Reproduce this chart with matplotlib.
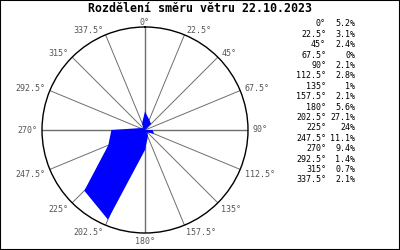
import numpy as np
import matplotlib
matplotlib.use("Agg")
import matplotlib.pyplot as plt
from matplotlib.patches import Rectangle
from matplotlib.transforms import offset_copy

# Wind direction distribution (percent of time per sector)
directions = [0, 22.5, 45, 67.5, 90, 112.5, 135, 157.5,
              180, 202.5, 225, 247.5, 270, 292.5, 315, 337.5]
dir_labels = ["0°", "22.5°", "45°", "67.5°", "90°", "112.5°", "135°", "157.5°",
              "180°", "202.5°", "225°", "247.5°", "270°", "292.5°", "315°", "337.5°"]
percent = [5.2, 3.1, 2.4, 0, 2.1, 2.8, 1, 2.1,
           5.6, 27.1, 24, 11.1, 9.4, 1.4, 0.7, 2.1]
pct_labels = ["5.2%", "3.1%", "2.4%", "0%", "2.1%", "2.8%", "1%", "2.1%",
              "5.6%", "27.1%", "24%", "11.1%", "9.4%", "1.4%", "0.7%", "2.1%"]
title = "Rozdělení směru větru 22.10.2023"

W, H = 400, 250
cx, cy, R = 145, 130, 103
rmax = 28.8
mono = "DejaVu Sans Mono"

fig = plt.figure(figsize=(W / 100, H / 100), dpi=100)
fig.patches.append(Rectangle((0, 0), 1, 1, transform=fig.transFigure,
                             fill=False, edgecolor="black", linewidth=1.5))

ax = fig.add_axes([(cx - R) / W, (H - cy - R) / H, 2 * R / W, 2 * R / H],
                  projection="polar")
ax.set_theta_zero_location("N")
ax.set_theta_direction(-1)
ax.set_ylim(0, rmax)
ax.set_yticks([])
theta = np.deg2rad(directions)
ax.set_xticks(theta)
ax.set_xticklabels([])
ax.grid(True, axis="x", color="#6e6e6e", linewidth=0.7)
ax.grid(False, axis="y")
ax.spines["polar"].set_color("black")
ax.spines["polar"].set_linewidth(1.0)

# cardinal directions slightly heavier
for d in [0, 90, 180, 270]:
    ax.plot([np.deg2rad(d)] * 2, [0, rmax], color="#6e6e6e", linewidth=1.0, zorder=1)

# wind rose polygon
t_closed = np.append(theta, theta[0])
p_closed = np.append(percent, percent[0])
ax.fill(t_closed, p_closed, color="#0000ff", linewidth=0, zorder=3)

# direction labels just outside the circle
r_lab = rmax * (1 + 5 / R)
down = offset_copy(ax.transData, fig=fig, x=0, y=-3, units="dots")
for d, lab in zip(directions, dir_labels):
    s = np.sin(np.deg2rad(d))
    ha = "left" if s > 0.1 else ("right" if s < -0.1 else "center")
    tr = down if 100 < d < 260 else ax.transData
    ax.text(np.deg2rad(d), r_lab, lab, ha=ha, va="center", fontsize=6,
            family=mono, color="#555555", clip_on=False, transform=tr)

fig.text(200 / W, 1 - 9 / H, title, ha="center", va="center",
         fontsize=8.4, fontweight="bold", family=mono)

# table of values on the right
for i, (a, p) in enumerate(zip(dir_labels, pct_labels)):
    y = 1 - (24 + i * 10.4) / H
    fig.text(326 / W, y, a, ha="right", va="center", fontsize=6, family=mono)
    fig.text(355 / W, y, p, ha="right", va="center", fontsize=6, family=mono)

fig.savefig("out.png", dpi=100)
